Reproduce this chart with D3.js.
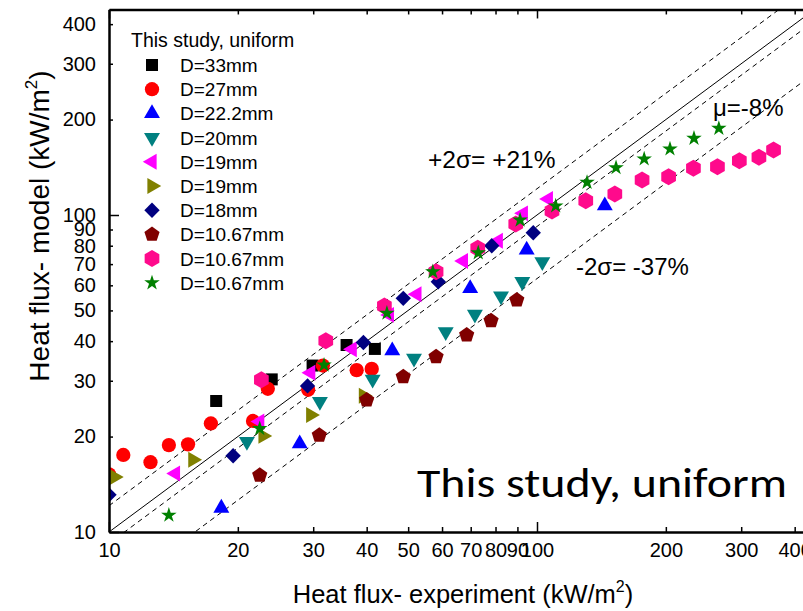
<!DOCTYPE html>
<html>
<head>
<meta charset="utf-8">
<script src="https://cdn.jsdelivr.net/npm/d3@7"></script>
<style>
body { margin: 0; background: #fff; }
svg { display: block; font-family: "Liberation Sans", Arial, sans-serif; }
</style>
</head>
<body>
<svg id="chart" width="803" height="611"></svg>
<script>
// Series values (experiment, model) in kW/m2
const d33Exp = [17.8, 24.0, 29.9, 35.9, 41.8];
const d33Mod = [25.9, 30.3, 33.5, 38.9, 37.8];

const d27Exp = [10.0, 10.8, 12.5, 13.8, 15.3, 17.3, 21.7, 23.5, 29.2, 31.6, 37.9, 41.1];
const d27Mod = [15.2, 17.5, 16.6, 18.8, 18.9, 22.0, 22.4, 28.3, 28.1, 33.5, 32.4, 32.7];

const d222Exp = [18.3, 27.9, 45.9, 69.8, 94.6, 144];
const d222Mod = [11.9, 19.0, 37.3, 58.7, 77.6, 107];

const d20Exp = [21.0, 31.1, 41.3, 51.6, 61.2, 71.6, 82.4, 92.4, 102.9];
const d20Mod = [19.3, 25.8, 30.3, 35.3, 42.8, 48.6, 55.5, 61.6, 71.2];

const d19aExp = [14.3, 22.5, 29.6, 37.0, 45.2, 52.4, 67.3, 81.2, 92.9, 106.3];
const d19aMod = [15.3, 22.3, 31.8, 37.7, 48.4, 56.2, 71.6, 82.9, 101.2, 112.3];

const d19bExp = [10.3, 15.7, 22.9, 29.6, 39.3];
const d19bMod = [14.9, 16.9, 20.1, 23.4, 26.9];

const d18Exp = [10.0, 19.5, 29.1, 39.3, 48.7, 58.8, 78.4, 98.0];
const d18Mod = [13.1, 17.4, 28.9, 39.6, 54.6, 61.6, 80.0, 87.9];

const d1067aExp = [22.5, 31.0, 40.0, 48.7, 58.1, 68.5, 78.1, 89.7];
const d1067aMod = [15.1, 20.2, 26.1, 30.9, 35.7, 41.8, 46.4, 53.9];

const d1067bExp = [22.7, 32.1, 44.0, 58.1, 72.7, 89.2, 108.4, 130, 152, 176, 203, 232, 264, 297, 330, 357];
const d1067bMod = [30.2, 40.1, 51.6, 66.2, 78.5, 93.7, 102.9, 110.9, 116.5, 128.9, 132.1, 140.4, 142.0, 148.4, 152.1, 160.3];

const d1067cExp = [13.8, 22.5, 31.8, 44.6, 57.1, 72.9, 91.3, 110.6, 130.9, 153, 178, 204.5, 232.7, 266];
const d1067cMod = [11.3, 21.2, 33.6, 49.0, 66.2, 76.0, 96.4, 106.8, 126.8, 141.0, 150.2, 161.6, 174.6, 187.7];

const legendLabels = ["D=33mm", "D=27mm", "D=22.2mm", "D=20mm", "D=19mm", "D=19mm",
	"D=18mm", "D=10.67mm", "D=10.67mm", "D=10.67mm"];

const xTicks = [10, 20, 30, 40, 50, 60, 70, 80, 90, 100, 200, 300, 400];
const yTicks = [10, 20, 30, 40, 50, 60, 70, 80, 90, 100, 200, 300, 400];

// model/experiment ratios: 1:1, +2 sigma, mean, -2 sigma
const parityRatio = 1;
const bandRatios = [1.21, 0.92, 0.63];

const svg = d3.select("#chart");

const x = d3.scaleLog().domain([10, 500]).range([109, 109 + 428 * Math.log10(50)]);
const y = d3.scaleLog().domain([10, 445]).range([532, 532 - 317 * Math.log10(44.5)]);

// custom polygon symbols (size = r^2)
function polygon(n, rot) {
	return {
		draw(context, size) {
			const r = Math.sqrt(size);
			for (let i = 0; i < n; i++) {
				const a = rot + i * 2 * Math.PI / n;
				const px = r * Math.cos(a), py = r * Math.sin(a);
				if (i === 0) context.moveTo(px, py); else context.lineTo(px, py);
			}
			context.closePath();
		}
	};
}
const pentagon = polygon(5, -Math.PI / 2);
const hexagon = polygon(6, -Math.PI / 2);

const series = [
	{ xs: d33Exp, ys: d33Mod, type: d3.symbolSquare, size: 144, rot: 0, color: "#000000" },
	{ xs: d27Exp, ys: d27Mod, type: d3.symbolCircle, size: 160, rot: 0, color: "#ff0000" },
	{ xs: d222Exp, ys: d222Mod, type: d3.symbolTriangle, size: 110, rot: 0, color: "#0000ff" },
	{ xs: d20Exp, ys: d20Mod, type: d3.symbolTriangle, size: 110, rot: 180, color: "#008080" },
	{ xs: d19aExp, ys: d19aMod, type: d3.symbolTriangle, size: 110, rot: -90, color: "#ff00ff" },
	{ xs: d19bExp, ys: d19bMod, type: d3.symbolTriangle, size: 110, rot: 90, color: "#808000" },
	{ xs: d18Exp, ys: d18Mod, type: d3.symbolSquare, size: 118, rot: 45, color: "#000080" },
	{ xs: d1067aExp, ys: d1067aMod, type: pentagon, size: 64, rot: 0, color: "#800000" },
	{ xs: d1067bExp, ys: d1067bMod, type: hexagon, size: 72, rot: 0, color: "#ff0a8c" },
	{ xs: d1067cExp, ys: d1067cMod, type: d3.symbolStar, size: 75, rot: 0, color: "#008000" }
];

svg.append("defs").append("clipPath").attr("id", "plot-clip")
	.append("rect")
	.attr("x", x.range()[0]).attr("y", y.range()[1])
	.attr("width", x.range()[1] - x.range()[0])
	.attr("height", y.range()[0] - y.range()[1]);

const plot = svg.append("g").attr("clip-path", "url(#plot-clip)");

// reference lines
const lineX = [10, 500];
function refLine(ratio, dashed) {
	plot.append("line")
		.attr("x1", x(lineX[0])).attr("y1", y(lineX[0] * ratio))
		.attr("x2", x(lineX[1])).attr("y2", y(lineX[1] * ratio))
		.attr("stroke", "#000")
		.attr("stroke-width", 1)
		.attr("stroke-dasharray", dashed ? "5,4" : null);
}
refLine(parityRatio, false);
bandRatios.forEach(r => refLine(r, true));

// markers
series.forEach(s => {
	const sym = d3.symbol().type(s.type).size(s.size);
	plot.append("g").selectAll("path")
		.data(s.xs.map((v, i) => [v, s.ys[i]]))
		.enter().append("path")
		.attr("d", sym)
		.attr("transform", d => `translate(${x(d[0])},${y(d[1])}) rotate(${s.rot})`)
		.attr("fill", s.color);
});

// axes, ticks pointing inwards
const isMajor = d => d === 10 || d === 100;

const xAxis = svg.append("g")
	.attr("transform", `translate(0,${y.range()[0]})`)
	.call(d3.axisBottom(x).tickValues(xTicks).tickFormat(d3.format("d"))
		.tickSizeInner(-5).tickSizeOuter(0).tickPadding(11));
xAxis.selectAll(".tick line").attr("y2", d => isMajor(d) ? -10 : -5).attr("stroke-width", 1.5);

const yAxis = svg.append("g")
	.attr("transform", `translate(${x.range()[0]},0)`)
	.call(d3.axisLeft(y).tickValues(yTicks).tickFormat(d3.format("d"))
		.tickSizeInner(-4).tickSizeOuter(0).tickPadding(13));
yAxis.selectAll(".tick line").attr("x2", d => isMajor(d) ? 10 : 4).attr("stroke-width", 1.5);

const topAxis = svg.append("g")
	.attr("transform", `translate(0,${y.range()[1]})`)
	.call(d3.axisTop(x).tickValues(xTicks).tickFormat("")
		.tickSizeInner(-5).tickSizeOuter(0));
topAxis.selectAll(".tick line").attr("y2", d => isMajor(d) ? 9 : 5).attr("stroke-width", 1.5);

[xAxis, yAxis, topAxis].forEach(a => {
	a.attr("font-family", null).attr("font-size", null);
	a.select(".domain").attr("stroke-width", 2.5);
	a.selectAll("text").attr("font-size", 20).attr("fill", "#000");
});

// axis titles
const xTitle = svg.append("text")
	.attr("x", 463).attr("y", 603)
	.attr("text-anchor", "middle")
	.attr("font-size", 25.5);
xTitle.append("tspan").text("Heat flux- experiment (kW/m");
xTitle.append("tspan").attr("font-size", 16).attr("dy", -11).text("2");
xTitle.append("tspan").attr("dy", 11).text(")");

const yTitle = svg.append("text")
	.attr("transform", "translate(49,226) rotate(-90)")
	.attr("text-anchor", "middle")
	.attr("font-size", 28);
yTitle.append("tspan").text("Heat flux- model (kW/m");
yTitle.append("tspan").attr("font-size", 17).attr("dy", -12).text("2");
yTitle.append("tspan").attr("dy", 12).text(")");

// annotations
svg.append("text").attr("x", 428).attr("y", 168).attr("font-size", 24.5).text("+2σ= +21%");
svg.append("text").attr("x", 713).attr("y", 116).attr("font-size", 24).text("μ=-8%");
svg.append("text").attr("x", 576).attr("y", 275).attr("font-size", 24).text("-2σ= -37%");

svg.append("text")
	.attr("x", 417).attr("y", 497)
	.attr("font-family", "Carlito, Calibri, Lato, sans-serif")
	.attr("font-size", 42)
	.attr("textLength", 370).attr("lengthAdjust", "spacingAndGlyphs")
	.text("This study, uniform");

// legend
const legend = svg.append("g");
legend.append("text").attr("x", 131).attr("y", 47).attr("font-size", 19.5).text("This study, uniform");
series.forEach((s, i) => {
	const cy = 65 + i * 24.2;
	legend.append("path")
		.attr("d", d3.symbol().type(s.type).size(s.size))
		.attr("transform", `translate(152,${cy}) rotate(${s.rot})`)
		.attr("fill", s.color);
	legend.append("text")
		.attr("x", 180).attr("y", cy + 7)
		.attr("font-size", 19)
		.text(legendLabels[i]);
});
</script>
</body>
</html>
